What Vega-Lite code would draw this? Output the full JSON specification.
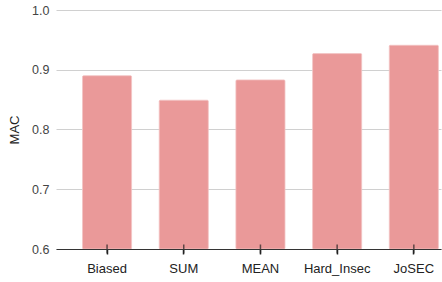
{
  "$schema": "https://vega.github.io/schema/vega-lite/v6.json",
  "width": 385,
  "height": 239,
  "autosize": {"type": "none"},
  "padding": {"left": 56, "top": 10, "right": 1, "bottom": 33},
  "background": "white",
  "config": {
    "view": {"stroke": null},
    "font": "Liberation Sans"
  },
  "data": {
    "values": [
      {"method": "Biased", "MAC": 0.890},
      {"method": "SUM", "MAC": 0.849},
      {"method": "MEAN", "MAC": 0.883},
      {"method": "Hard_Insec", "MAC": 0.927},
      {"method": "JoSEC", "MAC": 0.941}
    ]
  },
  "encoding": {
    "x": {
      "field": "method",
      "type": "nominal",
      "sort": null,
      "scale": {"paddingInner": 0.36, "paddingOuter": 0.19, "align": 0.91},
      "axis": {
        "title": null,
        "labelAngle": 0,
        "labelFontSize": 13,
        "labelColor": "#222",
        "labelPadding": 8,
        "ticks": true,
        "tickSize": 5,
        "tickWidth": 1.5,
        "tickColor": "#222",
        "domainColor": "#333",
        "domainWidth": 1,
        "grid": false,
        "zindex": 1
      }
    }
  },
  "layer": [
    {
      "mark": {"type": "bar", "color": "#EA9999", "stroke": "#f3c4c4", "strokeWidth": 0.8, "cornerRadius": 1},
      "encoding": {
        "y": {
          "field": "MAC",
          "type": "quantitative",
          "scale": {"domain": [0.6, 1.0], "nice": false, "zero": false},
          "axis": {
            "title": "MAC",
            "titleFontSize": 13,
            "titleFontWeight": "normal",
            "titleColor": "#222",
            "titlePadding": 10,
            "values": [0.6, 0.7, 0.8, 0.9, 1.0],
            "format": ".1f",
            "labelFontSize": 12.5,
            "labelColor": "#444",
            "labelPadding": 7,
            "ticks": false,
            "domain": false,
            "grid": true,
            "gridColor": "#d0d0d0",
            "gridWidth": 1
          }
        },
        "y2": {"datum": 0.6}
      }
    },
    {
      "mark": {"type": "tick", "orient": "vertical", "color": "#222", "size": 9, "thickness": 1.5},
      "encoding": {
        "y": {"datum": 0.6, "type": "quantitative"}
      }
    }
  ]
}
